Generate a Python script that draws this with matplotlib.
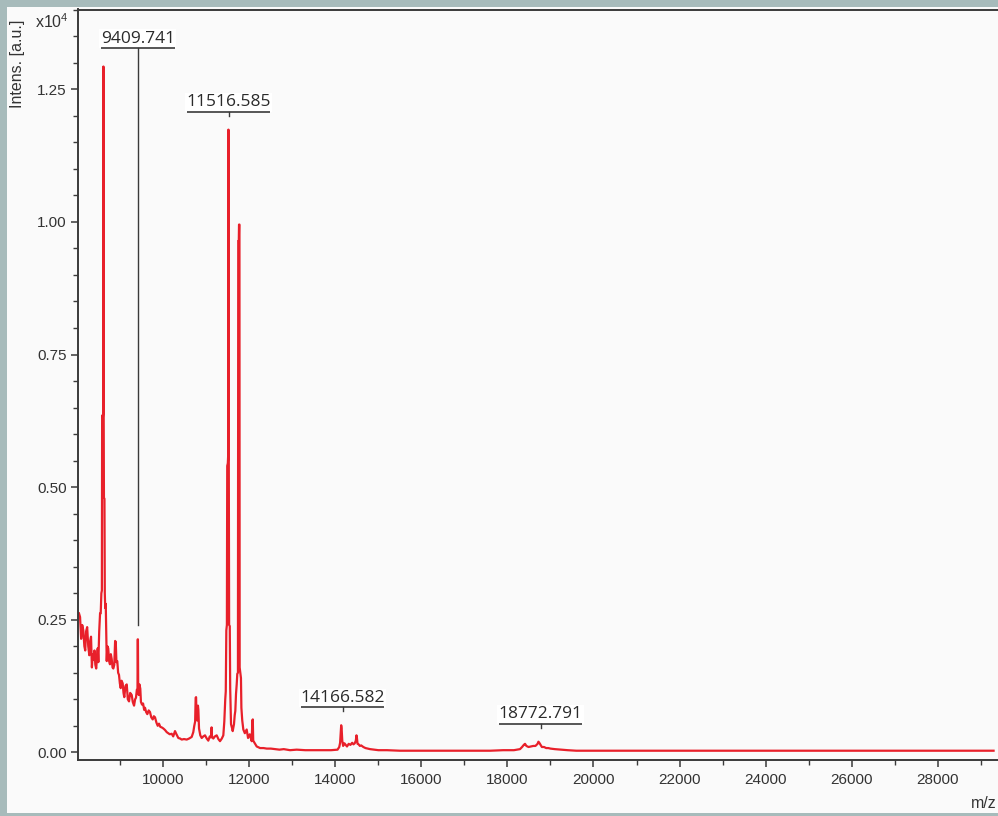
import matplotlib.pyplot as plt
from matplotlib.patches import Rectangle
from matplotlib.ticker import MultipleLocator, FixedLocator, FormatStrFormatter

plt.rcParams["font.family"] = ["Liberation Sans", "DejaVu Sans"]
plt.rcParams["mathtext.default"] = "regular"

# spectrum trace (m/z, intensity in units of 1e4)
MZ = [
    8040, 8065, 8090, 8115, 8140, 8165, 8185, 8205, 8230, 8255,
    8280, 8300, 8320, 8340, 8360, 8380, 8400, 8420, 8440, 8460,
    8475, 8490, 8510, 8530, 8545, 8560, 8572, 8578, 8596, 8602,
    8608, 8614, 8620, 8632, 8640, 8650, 8662, 8672, 8685, 8700,
    8720, 8740, 8760, 8780, 8800, 8820, 8838, 8860, 8880, 8895,
    8910, 8930, 8950, 8970, 8990, 9010, 9030, 9056, 9075, 9093,
    9120, 9150, 9175, 9203, 9230, 9266, 9290, 9320, 9345, 9365,
    9385, 9400, 9405, 9410, 9416, 9430, 9445, 9465, 9480, 9505,
    9530, 9555, 9575, 9600, 9628, 9660, 9690, 9720, 9754, 9780,
    9807, 9840, 9870, 9900, 9930, 9963, 10000, 10040, 10080, 10116,
    10150, 10195, 10230, 10272, 10300, 10349, 10390, 10428, 10480, 10544,
    10600, 10660, 10697, 10720, 10740, 10752, 10762, 10772, 10790, 10805,
    10815, 10830, 10860, 10893, 10930, 10969, 11010, 11046, 11080, 11110,
    11122, 11132, 11162, 11200, 11241, 11280, 11318, 11360, 11395, 11418,
    11440, 11452, 11465, 11478, 11486, 11500, 11508, 11514, 11522, 11530,
    11545, 11555, 11574, 11600, 11613, 11630, 11643, 11660, 11674, 11690,
    11706, 11720, 11735, 11742, 11755, 11760, 11770, 11775, 11790, 11805,
    11815, 11835, 11860, 11895, 11938, 11970, 12010, 12055, 12070, 12080,
    12090, 12120, 12171, 12250, 12330, 12404, 12500, 12600, 12700, 12800,
    12945, 13100, 13300, 13500, 13700, 13900, 14050, 14090, 14110, 14125,
    14135, 14145, 14160, 14180, 14210, 14240, 14270, 14310, 14350, 14390,
    14420, 14450, 14475, 14490, 14500, 14515, 14540, 14570, 14600, 14650,
    14700, 14750, 14805, 14900, 15000, 15200, 15500, 15800, 16100, 16400,
    16700, 17000, 17300, 17600, 17900, 18150, 18292, 18340, 18380, 18408,
    18440, 18490, 18550, 18600, 18650, 18700, 18720, 18740, 18770, 18800,
    18850, 18900, 18950, 19000, 19100, 19250, 19400, 19600, 20000, 21000,
    22000, 23000, 24000, 25000, 26000, 27000, 28000, 29300,
]
INTENS = [
    0.262, 0.255, 0.214, 0.240, 0.230, 0.200, 0.192, 0.228, 0.236, 0.200,
    0.183, 0.210, 0.218, 0.160, 0.185, 0.175, 0.192, 0.165, 0.158, 0.180,
    0.196, 0.170, 0.228, 0.262, 0.262, 0.300, 0.305, 0.635, 0.632, 0.640,
    1.293, 0.640, 0.480, 0.478, 0.300, 0.272, 0.280, 0.230, 0.172, 0.200,
    0.196, 0.172, 0.166, 0.185, 0.176, 0.160, 0.158, 0.165, 0.210, 0.208,
    0.170, 0.172, 0.150, 0.146, 0.130, 0.121, 0.135, 0.130, 0.112, 0.104,
    0.125, 0.128, 0.100, 0.096, 0.112, 0.108, 0.095, 0.088, 0.100, 0.103,
    0.118, 0.120, 0.213, 0.213, 0.125, 0.108, 0.128, 0.120, 0.095, 0.090,
    0.092, 0.080, 0.084, 0.076, 0.072, 0.079, 0.076, 0.066, 0.062, 0.068,
    0.066, 0.056, 0.050, 0.054, 0.048, 0.047, 0.045, 0.042, 0.038, 0.036,
    0.034, 0.035, 0.030, 0.040, 0.035, 0.027, 0.026, 0.024, 0.025, 0.024,
    0.026, 0.029, 0.038, 0.050, 0.058, 0.103, 0.104, 0.062, 0.060, 0.088,
    0.080, 0.045, 0.032, 0.027, 0.030, 0.032, 0.026, 0.022, 0.030, 0.028,
    0.047, 0.030, 0.026, 0.030, 0.032, 0.025, 0.021, 0.026, 0.032, 0.058,
    0.100, 0.115, 0.230, 0.240, 0.540, 0.545, 0.560, 1.174, 0.560, 0.240,
    0.238, 0.120, 0.053, 0.045, 0.040, 0.048, 0.053, 0.070, 0.078, 0.110,
    0.128, 0.148, 0.150, 0.964, 0.964, 0.995, 0.995, 0.160, 0.150, 0.140,
    0.084, 0.060, 0.043, 0.036, 0.043, 0.027, 0.034, 0.021, 0.060, 0.062,
    0.022, 0.018, 0.011, 0.008, 0.008, 0.007, 0.007, 0.006, 0.005, 0.006,
    0.004, 0.005, 0.004, 0.004, 0.004, 0.004, 0.005, 0.010, 0.018, 0.040,
    0.051, 0.045, 0.022, 0.012, 0.017, 0.014, 0.011, 0.016, 0.014, 0.018,
    0.015, 0.017, 0.022, 0.032, 0.028, 0.016, 0.015, 0.012, 0.013, 0.010,
    0.008, 0.007, 0.006, 0.005, 0.004, 0.004, 0.003, 0.003, 0.003, 0.003,
    0.003, 0.003, 0.003, 0.003, 0.004, 0.004, 0.006, 0.010, 0.014, 0.016,
    0.012, 0.010, 0.011, 0.012, 0.012, 0.016, 0.020, 0.018, 0.014, 0.010,
    0.010, 0.008, 0.008, 0.007, 0.006, 0.005, 0.004, 0.003, 0.003, 0.003,
    0.003, 0.003, 0.003, 0.003, 0.003, 0.003, 0.003, 0.003,
]

LABEL_MZ = [9409.741, 11516.585, 14166.582, 18772.791]
LABEL_TEXT = ["9409.741", "11516.585", "14166.582", "18772.791"]

X_TICKS = list(range(10000, 28001, 2000))
Y_TICKS = [0.00, 0.25, 0.50, 0.75, 1.00, 1.25]

# layout (pixels of the 998x816 canvas)
FIG_W, FIG_H = 998, 816
AX_LEFT, AX_RIGHT, AX_TOP, AX_BOTTOM = 78, 998, 9.5, 760
XLIM = (8017, 29403)
YLIM = (-0.0145, 1.4005)
RAISED_LABEL_Y = {9409.741: 1.328}   # label lifted above the big 8600 peak

BORDER = "#a7bbbb"
PANEL = "#fafafa"
INK = "#3a3a3a"
RED = "#e8202a"


def setup_figure():
    fig = plt.figure(figsize=(FIG_W / 100, FIG_H / 100), dpi=100, facecolor=BORDER)
    fig.patches.append(Rectangle((7 / FIG_W, 3 / FIG_H), 1, (FIG_H - 10) / FIG_H,
                                 transform=fig.transFigure, facecolor=PANEL,
                                 edgecolor="none", zorder=-10))
    ax = fig.add_axes([AX_LEFT / FIG_W, 1 - AX_BOTTOM / FIG_H,
                       (AX_RIGHT - AX_LEFT) / FIG_W, (AX_BOTTOM - AX_TOP) / FIG_H])
    ax.set_zorder(5)
    ax.set_facecolor(PANEL)
    return fig, ax


def style_axes(ax):
    ax.set_xlim(*XLIM)
    ax.set_ylim(*YLIM)

    ax.spines["right"].set_visible(False)
    for side in ("left", "bottom", "top"):
        ax.spines[side].set_color(INK)
        ax.spines[side].set_linewidth(1.4)

    ax.xaxis.set_major_locator(FixedLocator(X_TICKS))
    ax.xaxis.set_minor_locator(MultipleLocator(1000))
    ax.yaxis.set_major_locator(FixedLocator(Y_TICKS))
    ax.yaxis.set_minor_locator(MultipleLocator(0.05))
    ax.yaxis.set_major_formatter(FormatStrFormatter("%.2f"))

    ax.tick_params(which="major", direction="out", length=5, width=1.1,
                   color=INK, labelcolor="#333333", labelsize=11)
    ax.tick_params(which="minor", direction="out", length=3.3, width=1.0, color=INK)
    ax.tick_params(axis="x", which="major", pad=4)
    ax.tick_params(axis="y", which="major", pad=3)
    ax.tick_params(top=False, right=False, which="both")


def draw_peak_label(ax, mz, text):
    px_x = (XLIM[1] - XLIM[0]) / (AX_RIGHT - AX_LEFT)
    px_y = (YLIM[1] - YLIM[0]) / (AX_BOTTOM - AX_TOP)

    top = max(v for m, v in zip(MZ, INTENS) if abs(m - mz) <= 60)
    stem_bottom = top + 14 * px_y
    underline = RAISED_LABEL_Y.get(mz, stem_bottom + 4 * px_y)
    half = 4.6 * len(text) * px_x

    ax.annotate(text, (mz, underline), xytext=(0, 3.8), textcoords="offset points",
                ha="center", va="baseline", fontsize=12.5, color="#2b2b2b",
                family=["Open Sans", "DejaVu Sans"], zorder=4,
                bbox=dict(boxstyle="square,pad=0.08", facecolor="white", edgecolor="none"))
    ax.plot([mz - half, mz + half], [underline, underline], color=INK, lw=1.2,
            solid_capstyle="butt", zorder=6)
    ax.plot([mz, mz], [stem_bottom, underline], color=INK, lw=1.0, zorder=6)


def main():
    fig, ax = setup_figure()
    style_axes(ax)

    ax.plot(MZ, INTENS, color=RED, lw=1.6, zorder=2)

    for mz, text in zip(LABEL_MZ, LABEL_TEXT):
        draw_peak_label(ax, mz, text)

    fig.text(18 / FIG_W, 1 - 64 / FIG_H, "Intens. [a.u.]", rotation=90,
             ha="center", va="center", fontsize=11.5, color="#333333")
    fig.text(35 / FIG_W, 1 - 27.5 / FIG_H, "x10$^4$", ha="left", va="baseline",
             fontsize=11.5, color="#333333")
    fig.text(984 / FIG_W, 1 - 803 / FIG_H, "m/z", ha="center", va="center",
             fontsize=11.5, color="#333333")

    fig.savefig("out.png", dpi=100, facecolor=fig.get_facecolor())
    plt.close(fig)
    print("Saved: out.png")


if __name__ == "__main__":
    main()
